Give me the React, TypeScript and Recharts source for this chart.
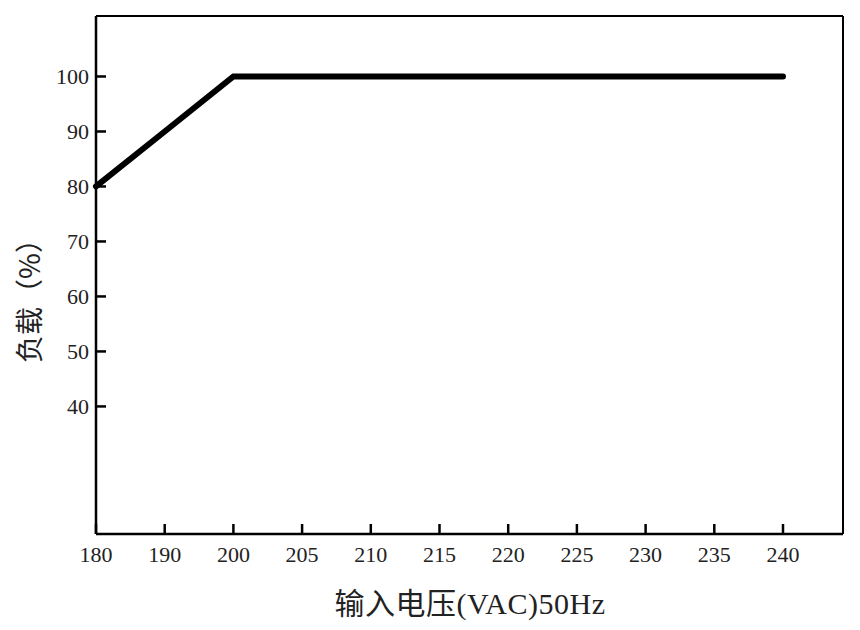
import { Label, Line, LineChart, XAxis, YAxis } from "recharts";

// input voltage (VAC) categories, evenly spaced on the axis
const voltages = ["180", "190", "200", "205", "210", "215", "220", "225", "230", "235", "240"];
// load (%)
const loadPct = [80, 90, 100, 100, 100, 100, 100, 100, 100, 100, 100];
const loadTicks = [40, 50, 60, 70, 80, 90, 100];

const data = voltages.map((v, i) => ({ v, load: loadPct[i] }));

const tickFamily = "'Liberation Serif', serif";
const labelFont = "'Liberation Serif', 'Noto Sans CJK SC', serif";

// ticks point into the plot, labels sit outside
function XTick(props: any) {
  const { x, y, payload } = props;
  return (
    <g>
      <line x1={x} x2={x} y1={y} y2={y - 10} stroke="#000" strokeWidth={2.5} />
      <text x={x} y={y + 28} textAnchor="middle" fontFamily={tickFamily} fontSize={22} fill="#222">
        {payload.value}
      </text>
    </g>
  );
}

function YTick(props: any) {
  const { x, y, payload } = props;
  return (
    <g>
      <line x1={x + 7} x2={x + 17} y1={y} y2={y} stroke="#000" strokeWidth={2.5} />
      <text x={x} y={y + 8} textAnchor="end" fontFamily={tickFamily} fontSize={22} fill="#222">
        {payload.value}
      </text>
    </g>
  );
}

export default function App() {
  return (
    <div style={{ position: "absolute", left: 0, top: 0, background: "#fff" }}>
      <LineChart
        width={860}
        height={630}
        data={data}
        margin={{ top: 15, right: 16, bottom: 0, left: 36 }}
      >
        <XAxis
          dataKey="v"
          type="category"
          height={96}
          padding={{ left: 0, right: 60 }}
          interval={0}
          tickSize={0}
          tickMargin={0}
          tick={<XTick />}
          tickLine={false}
          axisLine={{ stroke: "#000", strokeWidth: 2.5 }}
        >
          <Label
            content={() => (
              <text
                x={470}
                y={614}
                textAnchor="middle"
                fontFamily={labelFont}
                fontSize={30}
                letterSpacing={0.5}
                fill="#222"
              >
                输入电压(VAC)50Hz
              </text>
            )}
          />
        </XAxis>
        <XAxis
          xAxisId="top"
          dataKey="v"
          orientation="top"
          height={1}
          padding={{ left: 0, right: 60 }}
          tick={false}
          tickLine={false}
          axisLine={{ stroke: "#000", strokeWidth: 2 }}
        />
        <YAxis
          type="number"
          domain={[16.8, 111]}
          ticks={loadTicks}
          allowDataOverflow
          width={60}
          interval={0}
          tickSize={0}
          tickMargin={7}
          tick={<YTick />}
          tickLine={false}
          axisLine={{ stroke: "#000", strokeWidth: 2.5 }}
        >
          <Label
            content={() => (
              <text
                x={28}
                y={294}
                transform="rotate(-90 28 294)"
                textAnchor="middle"
                dominantBaseline="central"
                fontFamily="'Noto Sans CJK SC', sans-serif"
                fontSize={28}
                fill="#222"
              >
                负载（%）
              </text>
            )}
          />
        </YAxis>
        <YAxis
          yAxisId="right"
          orientation="right"
          domain={[16.8, 111]}
          allowDataOverflow
          width={1}
          tick={false}
          tickLine={false}
          axisLine={{ stroke: "#000", strokeWidth: 2 }}
        />
        <Line
          dataKey="load"
          stroke="#000"
          strokeWidth={6}
          strokeLinecap="round"
          dot={false}
          activeDot={false}
          isAnimationActive={false}
        />
      </LineChart>
    </div>
  );
}
